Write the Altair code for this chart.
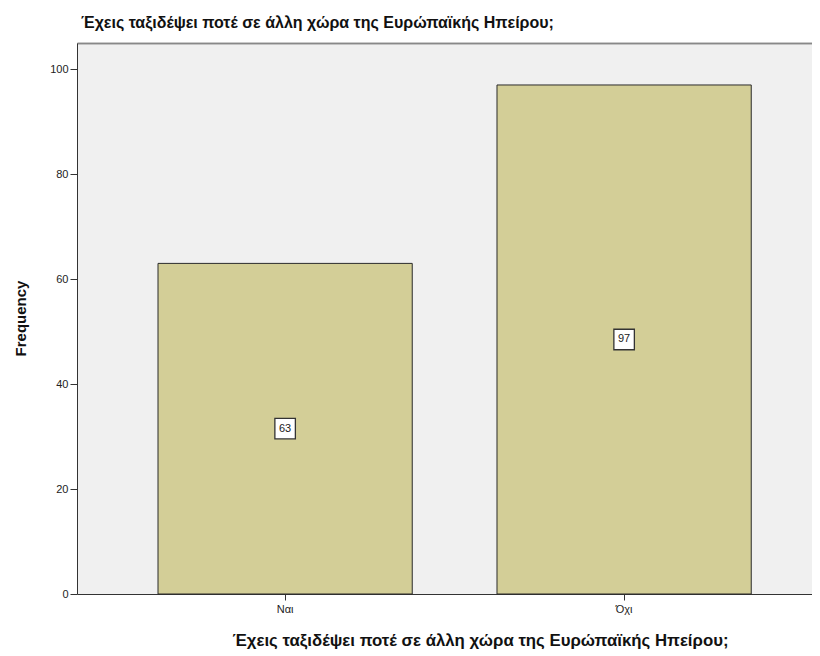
import altair as alt
import pandas as pd

categories = ["Ναι", "Όχι"]
counts = [63, 97]
y_ticks = [0, 20, 40, 60, 80, 100]
question = "Έχεις ταξιδέψει ποτέ σε άλλη χώρα της Ευρώπαϊκής Ηπείρου;"

df = pd.DataFrame({"answer": categories, "count": counts})

FONT = "Liberation Sans"
W, H = 735, 551

xscale = alt.Scale(domain=categories, paddingInner=0.25, paddingOuter=0.2091, align=0.5714)
yscale = alt.Scale(domain=[0, 105], nice=False)

yaxis = alt.Axis(values=y_ticks, title="Frequency", grid=False, labelFontSize=11,
                 labelFont=FONT, labelColor="#222", tickSize=7, tickColor="#333",
                 domainColor="#333", labelPadding=2, titleFont=FONT, titleFontSize=15,
                 titleFontWeight="bold", titleColor="#111", titleX=-57, titleY=275,
                 titleAngle=270, titleAlign="center", titleBaseline="middle")

bars = alt.Chart(df).mark_bar(color="#D3CE97", stroke="#2b2b2b", strokeWidth=1).encode(
    x=alt.X("answer:N", scale=xscale, sort=categories,
            axis=alt.Axis(title=question, labelAngle=0, labelFontSize=11, labelFont=FONT,
                          labelColor="#222", tickSize=6, tickColor="#333", domainColor="#333",
                          labelPadding=3, titleFont=FONT, titleFontSize=16.8, titleFontWeight="bold",
                          titleColor="#111", titleX=403, titleY=46, titleAlign="center",
                          titleBaseline="middle")),
    y=alt.Y("count:Q", scale=yscale, axis=yaxis),
)

base = alt.Chart(df).transform_calculate(mid="datum.count / 2")

topaxis = alt.Axis(orient="top", labels=False, ticks=False, title=None,
                   domainColor="#888", domainWidth=1.5)

boxes = base.mark_point(shape="square", size=420, filled=True, fill="white", stroke="#333",
                        strokeWidth=1.3, opacity=1).encode(
    x=alt.X("answer:N", scale=xscale, sort=categories, axis=topaxis),
    y=alt.Y("mid:Q", scale=yscale, axis=yaxis),
)

texts = base.mark_text(fontSize=11, font=FONT, color="#222").encode(
    x=alt.X("answer:N", scale=xscale, sort=categories, axis=topaxis),
    y=alt.Y("mid:Q", scale=yscale, axis=yaxis),
    text=alt.Text("count:Q"),
)

chart = alt.layer(bars, boxes, texts).resolve_axis(x="independent").properties(
    width=W, height=H,
    autosize=alt.AutoSizeParams(type="none"),
    padding={"left": 69, "top": 35, "right": 0, "bottom": 60},
    title=alt.TitleParams(question, anchor="start", frame="group", fontSize=16, font=FONT,
                          fontWeight="bold", color="#111", dx=4, offset=12),
    background="white",
).configure_view(fill="#F0F0F0", stroke=None)

chart.save("out.html", embed_options={"renderer": "svg", "actions": False})
